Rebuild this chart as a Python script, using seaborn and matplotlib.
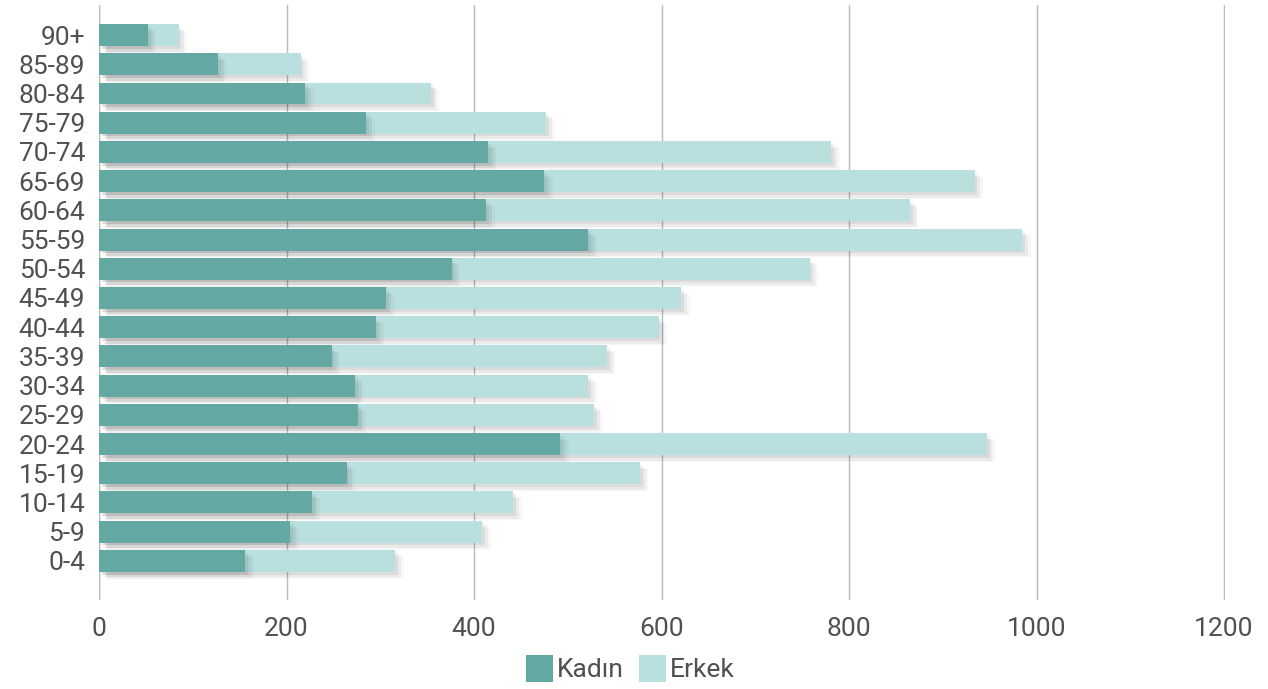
import matplotlib
matplotlib.use("Agg")
import matplotlib.pyplot as plt
import matplotlib.patheffects as pe
from matplotlib.patches import Patch
import seaborn as sns
import numpy as np
import pandas as pd

# age groups, bottom to top as in the chart
age_groups = ['0-4', '5-9', '10-14', '15-19', '20-24', '25-29', '30-34', '35-39',
              '40-44', '45-49', '50-54', '55-59', '60-64', '65-69', '70-74',
              '75-79', '80-84', '85-89', '90+']
kadin = [156, 204, 227, 264, 492, 276, 273, 248, 295, 306, 376, 522, 413, 475, 415, 285, 220, 127, 52]
erkek = [160, 205, 215, 313, 455, 252, 249, 294, 302, 315, 382, 463, 452, 459, 366, 192, 134, 88, 33]
series_names = ['Kadın', 'Erkek']
x_ticks = [0, 200, 400, 600, 800, 1000, 1200]

dark = '#64A8A3'
light = '#B9E0DF'
text_col = '#505050'

sns.set_style('white')
plt.rcParams['font.family'] = ['Roboto', 'DejaVu Sans']

df = pd.DataFrame({'age': age_groups, 'Kadın': kadin, 'Erkek': erkek})
df['total'] = df['Kadın'] + df['Erkek']
order = age_groups[::-1]

fig = plt.figure(figsize=(12.68, 6.89), dpi=100)
ax = fig.add_axes([99 / 1268, 1 - 600 / 689, 1126 / 1268, 595 / 689])

# soft drop shadow made from a few faint offset copies
shadow = [pe.SimplePatchShadow(offset=(2, -2), shadow_rgbFace='#000000', alpha=0.06),
          pe.SimplePatchShadow(offset=(4, -4), shadow_rgbFace='#000000', alpha=0.05),
          pe.SimplePatchShadow(offset=(6, -5), shadow_rgbFace='#000000', alpha=0.03),
          pe.Normal()]

# stacked bars: total in light colour, Kadın in dark on top
sns.barplot(data=df, y='age', x='total', order=order, color=light, width=0.75,
            orient='h', ax=ax, saturation=1, zorder=2)
sns.barplot(data=df, y='age', x='Kadın', order=order, color=dark, width=0.75,
            orient='h', ax=ax, saturation=1, zorder=3)
for p in ax.patches:
    p.set_path_effects(shadow)
    p.set_linewidth(0)

ax.set_xlim(0, 1201)
ax.set_ylim(len(order) - 1 + 1.34, -1.03)
ax.set_xticks(x_ticks)
ax.set_xticklabels([str(t) for t in x_ticks])
ax.xaxis.grid(True, color='#BBBBBB', linewidth=1, zorder=0)
ax.set_axisbelow(True)
for s in ax.spines.values():
    s.set_visible(False)
ax.axvline(0, color='#BBBBBB', linewidth=1, zorder=1)
ax.tick_params(axis='both', length=0, labelsize=19, labelcolor=text_col)
ax.tick_params(axis='y', pad=10)
ax.tick_params(axis='x', pad=12)
ax.set_xlabel('')
ax.set_ylabel('')

handles = [Patch(facecolor=dark, edgecolor='none'), Patch(facecolor=light, edgecolor='none')]
leg = fig.legend(handles, series_names, loc='lower center', bbox_to_anchor=(0.497, -0.025),
                 ncol=2, frameon=False, fontsize=19, handlelength=1.0, handleheight=1.2,
                 handletextpad=0.15, columnspacing=0.6)
for t in leg.get_texts():
    t.set_color(text_col)

fig.savefig('out.png', dpi=100)
